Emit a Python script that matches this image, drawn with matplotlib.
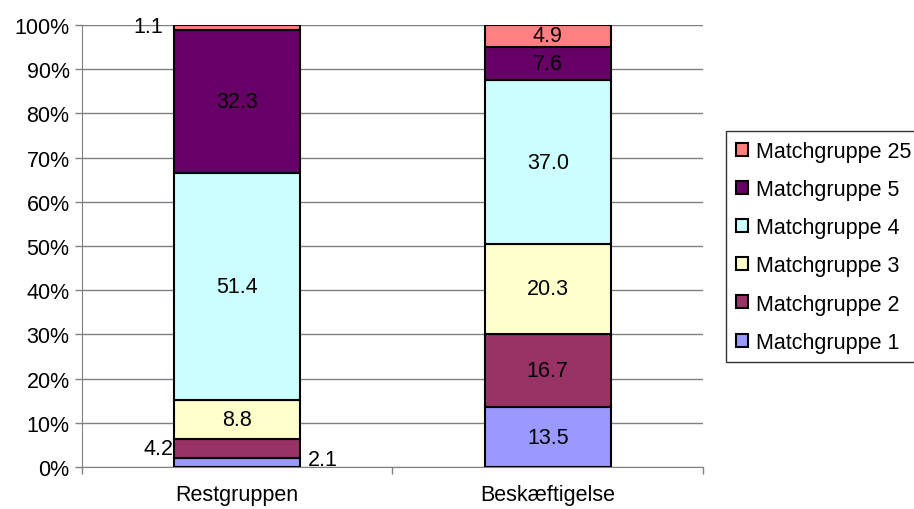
import matplotlib
matplotlib.use("Agg")
import matplotlib.pyplot as plt
import numpy as np

plt.rcParams['font.family'] = ['Liberation Sans', 'DejaVu Sans']

categories = ["Restgruppen", "Beskæftigelse"]
series_names = ["Matchgruppe 1", "Matchgruppe 2", "Matchgruppe 3",
                "Matchgruppe 4", "Matchgruppe 5", "Matchgruppe 25"]
mg1 = [2.1, 13.5]
mg2 = [4.2, 16.7]
mg3 = [8.8, 20.3]
mg4 = [51.4, 37.0]
mg5 = [32.3, 7.6]
mg25 = [1.1, 4.9]
colors = ["#9999FF", "#993366", "#FFFFCC", "#CCFFFF", "#660066", "#FF8080"]

FS = 15.5

series = [mg1, mg2, mg3, mg4, mg5, mg25]
data = np.array(series, dtype=float)
totals = data.sum(axis=0)
pct = data / totals * 100

fig = plt.figure(figsize=(9.14, 5.10), dpi=100)
ax = fig.add_axes([82 / 914, 1 - 468 / 510, 621 / 914, 442 / 510])

x = np.arange(len(categories))
width = 0.405
bottom = np.zeros(len(categories))
handles = []
for name, vals, col, raw in zip(series_names, pct, colors, data):
    b = ax.bar(x, vals, width, bottom=bottom, color=col, edgecolor="black",
               linewidth=1.5, label=name, zorder=3)
    handles.append(b)
    for i in range(len(categories)):
        yc = bottom[i] + vals[i] / 2
        if vals[i] >= 4.5:
            ax.text(x[i], yc, f"{raw[i]:.1f}", ha="center", va="center",
                    fontsize=FS, zorder=4)
    bottom += vals

# thin segments of the first bar are labelled beside it
seg_bottoms = np.cumsum(np.vstack([np.zeros(len(categories)), pct]), axis=0)
ax.text(x[0] - width / 2 - 0.003, seg_bottoms[1][0] + pct[1][0] / 2, f"{mg2[0]:.1f}",
        ha="right", va="center", fontsize=FS)
ax.text(x[0] + width / 2 + 0.025, seg_bottoms[0][0] + pct[0][0] / 2 + 0.6, f"{mg1[0]:.1f}",
        ha="left", va="center", fontsize=FS)
ax.text(x[0] - width / 2 - 0.035, seg_bottoms[5][0] + pct[5][0] / 2 + 0.1, f"{mg25[0]:.1f}",
        ha="right", va="center", fontsize=FS)

ax.set_xlim(-0.5, 1.5)
ax.set_ylim(0, 100)
ax.set_yticks(np.arange(0, 101, 10))
ax.set_yticklabels([f"{v}%" for v in range(0, 101, 10)], fontsize=FS)
ax.set_xticks(x)
ax.set_xticklabels(categories, fontsize=FS)
ax.set_xticks([-0.5, 0.5, 1.5], minor=True)
ax.tick_params(axis="x", which="major", length=0, pad=12)
ax.tick_params(axis="x", which="minor", length=5, width=1, color="#808080", direction="out")
ax.tick_params(axis="y", length=5, width=1, color="#808080", direction="out", pad=4)
ax.yaxis.grid(True, color="#808080", linewidth=1, zorder=0)
for s in ["top", "right"]:
    ax.spines[s].set_visible(False)
ax.spines["left"].set_color("#808080")
ax.spines["bottom"].set_color("#808080")
ax.set_axisbelow(True)

leg = ax.legend(handles=handles[::-1], labels=series_names[::-1],
                loc="upper left", bbox_to_anchor=(726 / 914, 1 - 132 / 510),
                bbox_transform=fig.transFigure, frameon=True, fancybox=False,
                edgecolor="black", fontsize=FS, handlelength=0.55, handleheight=0.55,
                handletextpad=0.4, labelspacing=0.8, borderpad=0.45,
                borderaxespad=0)
leg.get_frame().set_linewidth(1)

fig.savefig("out.png", dpi=100)
